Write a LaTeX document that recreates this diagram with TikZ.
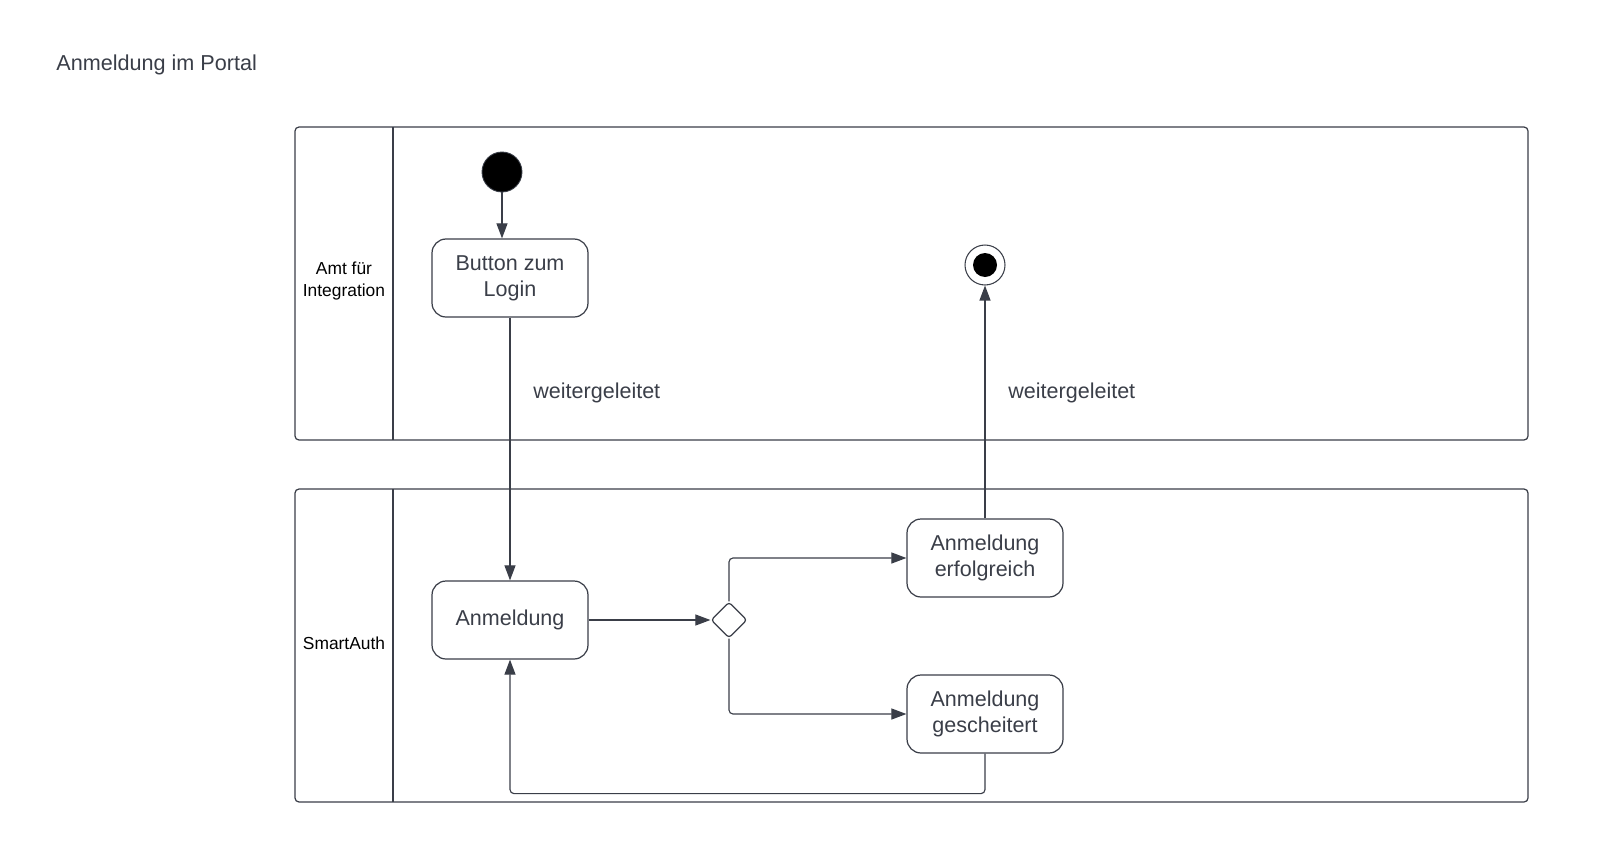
\documentclass[tikz,border=0pt]{standalone}
\usepackage{fontspec}
\setmainfont{Liberation Sans}
\usetikzlibrary{arrows.meta,shapes.geometric,positioning}
\definecolor{umlline}{RGB}{58,62,72}

\begin{document}
\begin{tikzpicture}[x=0.02cm,y=-0.02cm,
	>={Triangle[length=0.3cm,width=0.22cm]},
	every edge/.style={draw=umlline,line width=0.65pt},
	flow/.style={draw=umlline,line width=0.65pt,rounded corners=0.08cm},
	lane/.style={draw=umlline,line width=0.7pt,rounded corners=0.08cm},
	activity/.style={draw=umlline,line width=0.7pt,rounded corners=0.28cm,
		minimum width=3.12cm,minimum height=1.56cm,inner sep=0pt,
		align=center,text=umlline,font=\fontsize{12.25}{14.7}\selectfont},
	decision/.style={diamond,draw=umlline,line width=0.7pt,rounded corners=0.06cm,
		minimum width=0.72cm,minimum height=0.72cm,inner sep=0pt},
	initial/.style={circle,fill=black,draw=umlline,line width=0.5pt,minimum size=0.8cm,inner sep=0pt},
	final/.style={circle,draw=umlline,line width=0.6pt,minimum size=0.8cm,inner sep=0pt},
	lanelabel/.style={align=center,text=black,font=\fontsize{9.9}{12.5}\selectfont},
	flowlabel/.style={anchor=west,xshift=0.34cm,text=umlline,font=\fontsize{12.25}{14.7}\selectfont}]
	\useasboundingbox (0,0) rectangle (1602,859);
	\node[anchor=west,inner sep=0pt,text=umlline,font=\fontsize{12.3}{14.7}\selectfont] (title) at (56,65) {Anmeldung im Portal};
	% swimlanes
	\draw[lane] (295,127) rectangle (1528,440);
	\draw[umlline,line width=0.7pt] (393,127) -- (393,440);
	\draw[lane] (295,489) rectangle (1528,802);
	\draw[umlline,line width=0.7pt] (393,489) -- (393,802);
	\node[lanelabel] (amt) at (344,281) {Amt für\\Integration};
	\node[lanelabel] (smart) at (344,643) {SmartAuth};
	% nodes
	\node[initial] (start) at (502,172) {};
	\node[activity] (btn) at (510,278) {Button zum\\Login};
	\node[final] (end) at (985,265) {};
	\node[circle,fill=black,minimum size=0.48cm,inner sep=0pt] (endDot) at (end) {};
	\node[activity] (anm) at (510,620) {Anmeldung};
	\node[decision] (dec) at (729,620) {};
	\node[activity] (ok) at (985,558) {Anmeldung\\erfolgreich};
	\node[activity] (nok) at (985,714) {Anmeldung\\gescheitert};
	% connectors
	\path[->]
	(start) edge (start |- btn.north)
	(btn) edge node[flowlabel,pos=0.285] {weitergeleitet} (anm)
	(anm) edge (dec)
	(ok) edge node[flowlabel,pos=0.54] {weitergeleitet} (end);
	\draw[flow,->] (dec.north) |- (ok.west);
	\draw[flow,->] (dec.south) |- (nok.west);
	\draw[flow,->] (nok.south) -- ++(0,40) -| (anm.south);
\end{tikzpicture}
\end{document}
